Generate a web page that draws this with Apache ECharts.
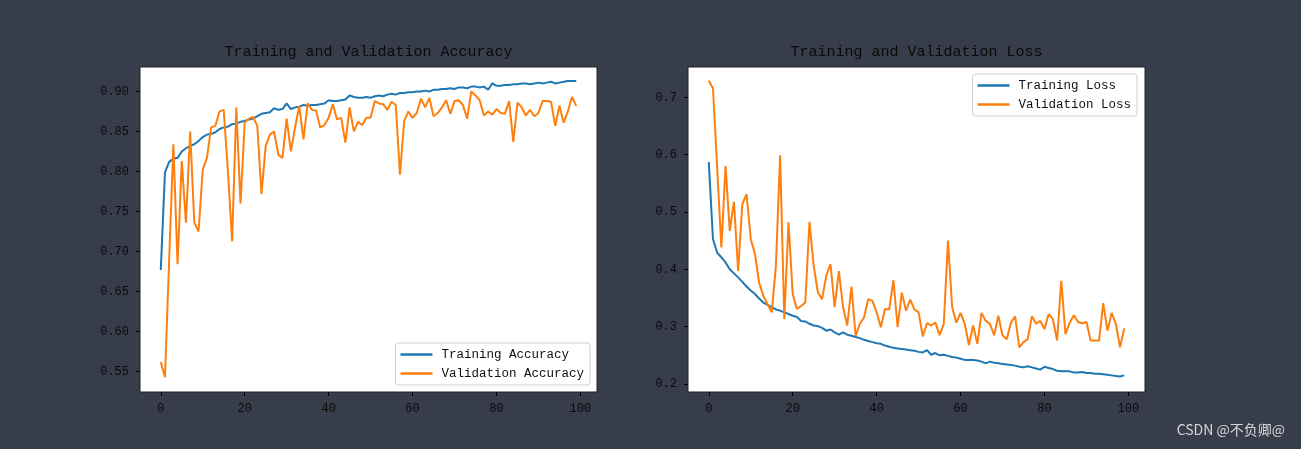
<!DOCTYPE html>
<html>
<head>
<meta charset="utf-8">
<script src="https://cdn.jsdelivr.net/npm/echarts@6/dist/echarts.min.js"></script>
<style>
html,body{margin:0;padding:0;background:#373d4b;}
#c{width:1301px;height:449px;}
</style>
</head>
<body>
<div id="c"></div>
<script>
const epochs = Array.from({length: 100}, (_, i) => i);
const xTicks = [0, 20, 40, 60, 80, 100];
const accTicks = [0.55, 0.60, 0.65, 0.70, 0.75, 0.80, 0.85, 0.90];
const lossTicks = [0.2, 0.3, 0.4, 0.5, 0.6, 0.7];

const trainAcc = [0.677,0.799,0.812,0.816,0.817,0.825,0.829,0.832,0.834,0.838,
0.843,0.846,0.847,0.849,0.853,0.855,0.856,0.859,0.860,0.862,
0.863,0.865,0.866,0.869,0.872,0.873,0.874,0.879,0.877,0.878,
0.885,0.878,0.880,0.881,0.883,0.882,0.883,0.883,0.884,0.885,
0.889,0.888,0.888,0.889,0.890,0.895,0.893,0.892,0.892,0.893,
0.892,0.894,0.895,0.894,0.896,0.897,0.896,0.898,0.898,0.899,
0.899,0.900,0.900,0.901,0.900,0.902,0.902,0.903,0.903,0.904,
0.903,0.905,0.905,0.904,0.906,0.906,0.905,0.906,0.902,0.910,
0.907,0.907,0.908,0.908,0.909,0.909,0.910,0.910,0.909,0.910,
0.911,0.910,0.911,0.912,0.910,0.911,0.912,0.913,0.913,0.913];

const valAcc = [0.562,0.543,0.690,0.834,0.684,0.813,0.736,0.850,0.736,0.725,
0.802,0.817,0.855,0.857,0.875,0.877,0.800,0.713,0.880,0.760,
0.861,0.866,0.868,0.857,0.772,0.832,0.846,0.850,0.821,0.817,
0.866,0.825,0.855,0.882,0.840,0.885,0.877,0.876,0.855,0.858,
0.867,0.884,0.865,0.867,0.836,0.880,0.850,0.862,0.858,0.867,
0.867,0.888,0.885,0.884,0.877,0.887,0.883,0.796,0.863,0.875,
0.867,0.873,0.891,0.880,0.892,0.869,0.873,0.880,0.889,0.872,
0.888,0.889,0.883,0.866,0.900,0.895,0.889,0.870,0.875,0.871,
0.878,0.873,0.872,0.888,0.837,0.886,0.880,0.870,0.877,0.869,
0.873,0.888,0.888,0.887,0.857,0.882,0.861,0.875,0.893,0.882];

const trainLoss = [0.587,0.453,0.429,0.421,0.412,0.400,0.393,0.386,0.378,0.370,
0.363,0.357,0.349,0.342,0.338,0.334,0.330,0.328,0.325,0.322,
0.319,0.317,0.310,0.309,0.305,0.302,0.301,0.298,0.293,0.295,
0.290,0.286,0.290,0.286,0.284,0.282,0.280,0.277,0.275,0.273,
0.271,0.270,0.267,0.265,0.263,0.262,0.261,0.260,0.259,0.258,
0.256,0.255,0.259,0.251,0.254,0.250,0.251,0.249,0.247,0.246,
0.244,0.242,0.242,0.242,0.241,0.239,0.236,0.239,0.237,0.236,
0.235,0.234,0.233,0.232,0.230,0.229,0.231,0.229,0.227,0.225,
0.230,0.228,0.226,0.223,0.222,0.222,0.222,0.220,0.220,0.221,
0.219,0.219,0.218,0.218,0.217,0.216,0.215,0.214,0.213,0.215];

const valLoss = [0.729,0.716,0.577,0.438,0.580,0.467,0.518,0.397,0.514,0.531,
0.453,0.427,0.377,0.354,0.339,0.325,0.406,0.599,0.313,0.482,
0.357,0.331,0.336,0.342,0.483,0.406,0.360,0.348,0.389,0.409,
0.334,0.397,0.334,0.302,0.370,0.284,0.305,0.316,0.348,0.345,
0.325,0.299,0.331,0.330,0.381,0.299,0.359,0.328,0.347,0.330,
0.325,0.283,0.306,0.302,0.307,0.285,0.305,0.450,0.334,0.307,
0.324,0.305,0.268,0.302,0.270,0.324,0.310,0.305,0.285,0.319,
0.285,0.278,0.307,0.318,0.264,0.273,0.278,0.318,0.305,0.310,
0.296,0.322,0.313,0.276,0.380,0.287,0.307,0.320,0.308,0.306,
0.308,0.276,0.276,0.276,0.341,0.293,0.324,0.305,0.264,0.297];

const MONO = '"Liberation Mono", "DejaVu Sans Mono", monospace';
const BLUE = '#1f77b4', ORANGE = '#ff7f0e';
const pairs = (arr) => epochs.map((e, i) => [e, arr[i]]);

function xAxis(gi) {
  return {
    type: 'value', gridIndex: gi, min: -4.95, max: 103.95,
    splitLine: {show: false},
    axisLine: {show: false, onZero: false},
    axisTick: {show: true, length: 4, lineStyle: {color: '#000', width: 1}, customValues: xTicks},
    axisLabel: {color: '#0a0a0a', fontFamily: MONO, fontSize: 12, margin: 11, customValues: xTicks,
      formatter: v => String(Math.round(v))}
  };
}
function yAxis(gi, min, max, ticks, dec) {
  return {
    type: 'value', gridIndex: gi, min: min, max: max,
    splitLine: {show: false},
    axisLine: {show: false, onZero: false},
    axisTick: {show: true, length: 4, lineStyle: {color: '#000', width: 1}, customValues: ticks},
    axisLabel: {color: '#0a0a0a', fontFamily: MONO, fontSize: 12, margin: 11, customValues: ticks,
      formatter: v => v.toFixed(dec)}
  };
}
function line(name, gi, arr, color) {
  return {
    name: name, type: 'line', xAxisIndex: gi, yAxisIndex: gi,
    data: pairs(arr), showSymbol: false, symbol: 'none', smooth: false,
    lineStyle: {color: color, width: 2}, itemStyle: {color: color},
    animation: false
  };
}
function legend(names, pos) {
  return Object.assign({
    orient: 'vertical', data: names, icon: 'rect', itemWidth: 32, itemHeight: 2.5,
    itemGap: 6, padding: [5, 6, 5, 5],
    backgroundColor: '#fff', borderColor: '#d0d0d0', borderWidth: 1, borderRadius: 3,
    textStyle: {fontFamily: MONO, fontSize: 12.5, color: '#111', padding: [0, 0, 0, 4]}
  }, pos);
}

const chart = echarts.init(document.getElementById('c'), null, {renderer: 'canvas'});
chart.setOption({
  backgroundColor: '#373d4b',
  animation: false,
  grid: [
    {left: 140, top: 67, width: 457, height: 325, show: true, backgroundColor: '#fff', borderColor: '#222', borderWidth: 1},
    {left: 688, top: 67, width: 457, height: 325, show: true, backgroundColor: '#fff', borderColor: '#222', borderWidth: 1}
  ],
  xAxis: [xAxis(0), xAxis(1)],
  yAxis: [yAxis(0, 0.5245, 0.9305, accTicks, 2), yAxis(1, 0.186, 0.753, lossTicks, 1)],
  legend: [
    legend(['Training Accuracy', 'Validation Accuracy'], {right: 711, bottom: 64}),
    legend(['Training Loss', 'Validation Loss'], {right: 164, top: 74})
  ],
  graphic: [
    {type: 'text', x: 368.5, y: 52, style: {text: 'Training and Validation Accuracy', font: '15px ' + MONO, fill: '#0a0a0a', align: 'center', verticalAlign: 'middle'}},
    {type: 'text', x: 916.5, y: 52, style: {text: 'Training and Validation Loss', font: '15px ' + MONO, fill: '#0a0a0a', align: 'center', verticalAlign: 'middle'}},
    {type: 'text', x: 1285, y: 430, style: {text: 'CSDN @不负卿@', font: '14px "Noto Sans CJK SC", "Noto Sans", sans-serif', fill: '#d6d6d6', align: 'right', verticalAlign: 'middle'}}
  ],
  series: [
    line('Training Accuracy', 0, trainAcc, BLUE),
    line('Validation Accuracy', 0, valAcc, ORANGE),
    line('Training Loss', 1, trainLoss, BLUE),
    line('Validation Loss', 1, valLoss, ORANGE)
  ]
});
</script>
</body>
</html>
